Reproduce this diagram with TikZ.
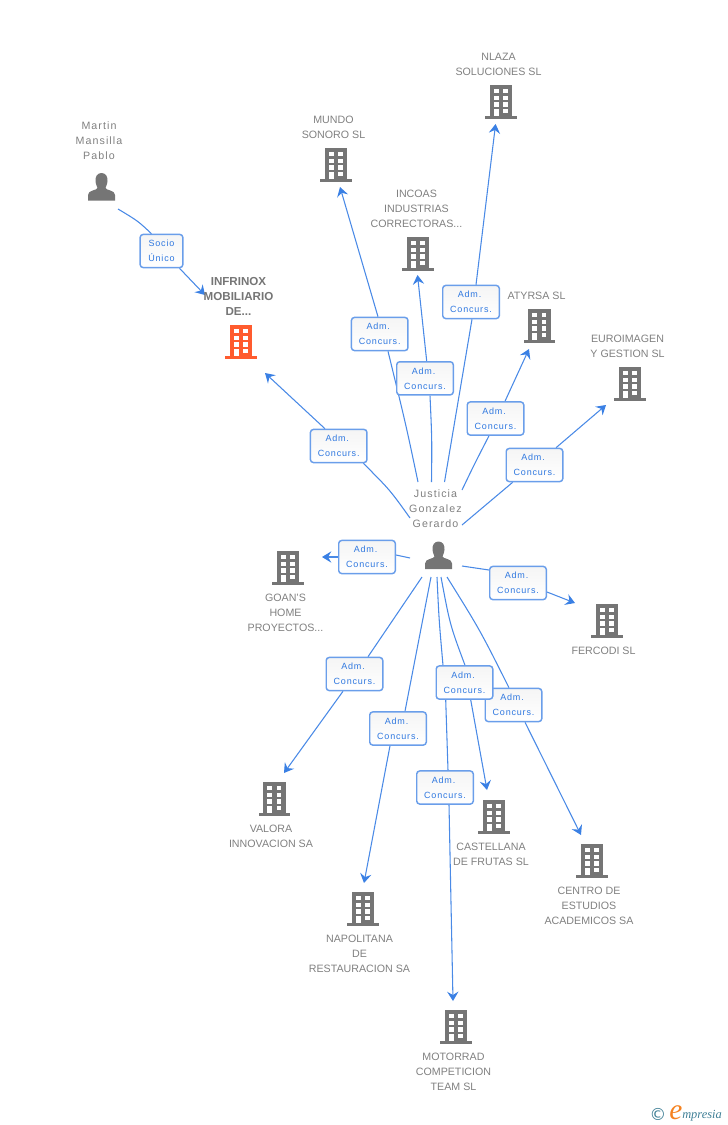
\documentclass[tikz,border=0pt]{standalone}
\usepackage{fontspec}
\setmainfont{Liberation Sans}
\newfontfamily\personfont[LetterSpace=10]{Liberation Sans}
\newfontfamily\labelfont[LetterSpace=9]{Liberation Sans}
\newfontfamily\logofont{Liberation Serif}
\newfontfamily\copyfont{DejaVu Sans}
\usetikzlibrary{arrows.meta,calc}
\definecolor{linkblue}{HTML}{4A8AE6}
\definecolor{tipblue}{HTML}{3A80E4}
\definecolor{boxblue}{HTML}{6A9EEA}
\definecolor{labelblue}{HTML}{2F78E0}
\definecolor{icongray}{HTML}{757575}
\definecolor{textgray}{HTML}{808080}
\definecolor{boldgray}{HTML}{757575}
\definecolor{hotorange}{HTML}{FF5B2E}
\definecolor{logoteal}{HTML}{3F7F96}
\definecolor{logoorange}{HTML}{F58220}
\pgfdeclarelayer{links}
\pgfsetlayers{links,main}
\newcommand{\admtext}{Adm.\kern2.2pt\\Concurs.}
\tikzset{
  x=0.75pt,y=-0.75pt,
  building/.pic={
    \fill[pic actions] (-11.3,0) rectangle (11.3,31);
    \fill[pic actions] (-15.6,31) rectangle (15.6,34);
    \foreach \yy in {4,10.7,17.3}{
      \fill[white] (-7.3,\yy) rectangle (-2.4,\yy+4.4);
      \fill[white] (2,\yy) rectangle (6.9,\yy+4.4);
    }
    \fill[white] (-7.3,24) rectangle (-2.4,31);
    \fill[white] (2,24) rectangle (6.9,28.4);
  },
  personicon/.pic={
    \fill[pic actions] (0,0) .. controls (4.5,0) and (6.3,4) .. (6,8)
      .. controls (5.7,11.5) and (4.5,13.5) .. (4,15)
      .. controls (4.5,17.5) and (13.5,17) .. (13.5,22)
      -- (13.5,27.5) -- (-13.5,27.5) -- (-13.5,22)
      .. controls (-13.5,17) and (-4.5,17.5) .. (-4,15)
      .. controls (-4.5,13.5) and (-5.7,11.5) .. (-6,8)
      .. controls (-6.3,4) and (-4.5,0) .. (0,0) -- cycle;
  },
  nametext/.style={text=textgray,align=center,inner sep=0pt,yshift=-0.7pt,font=\fontsize{8}{11.25}\selectfont},
  persontext/.style={text=textgray,align=center,inner sep=0pt,yshift=-0.7pt,font=\personfont\fontsize{8}{11.25}\selectfont},
  hottext/.style={text=boldgray,align=center,inner sep=0pt,font=\bfseries\fontsize{8.7}{11.25}\selectfont},
  linkbox/.style={draw=boxblue,line width=1.1pt,rounded corners=2.2pt,top color=gray!8,bottom color=white,
    minimum width=42.4pt,minimum height=24.8pt,inner sep=0pt,align=center,text=labelblue,
    font=\labelfont\fontsize{6.75}{11.25}\selectfont},
  smallbox/.style={linkbox,minimum width=32pt},
  conn/.style={draw=linkblue,line width=0.8pt},
  connarrow/.style={conn,-{Stealth[length=7pt,width=8.5pt,inset=2.5pt,color=tipblue]}},
}
\begin{document}
\begin{tikzpicture}
\useasboundingbox (0,0) rectangle (728,1125);

% building icons
\pic[fill=icongray] (icoNlaza) at (501,85) {building};
\pic[fill=icongray] (icoMundo) at (336,148) {building};
\pic[fill=icongray] (icoIncoas) at (418,237) {building};
\pic[fill=icongray] (icoAtyrsa) at (539.5,309) {building};
\pic[fill=icongray] (icoEuro) at (630,367) {building};
\pic[fill=hotorange] (icoInfrinox) at (241,325) {building};
\pic[fill=icongray] (icoGoan) at (288,551) {building};
\pic[fill=icongray] (icoFercodi) at (607,604) {building};
\pic[fill=icongray] (icoValora) at (274.5,782) {building};
\pic[fill=icongray] (icoCastellana) at (494,800) {building};
\pic[fill=icongray] (icoCentro) at (592,844) {building};
\pic[fill=icongray] (icoNapolitana) at (363,892) {building};
\pic[fill=icongray] (icoMotorrad) at (456,1010) {building};
\pic[fill=icongray] (icoMartin) at (101.5,173) {personicon};
\pic[fill=icongray] (icoJusticia) at (438.5,541.5) {personicon};

% name texts
\node[persontext] (tMartin) at (99,140) {Martin\\Mansilla\\Pablo};
\node[persontext] (tJusticia) at (435.5,507.5) {Justicia\\Gonzalez\\Gerardo};
\node[nametext] (tNlaza) at (498.5,63.5) {NLAZA\\SOLUCIONES SL};
\node[nametext] (tMundo) at (333.5,126.5) {MUNDO\\SONORO SL};
\node[nametext] (tIncoas) at (416.5,208) {INCOAS\\INDUSTRIAS\\CORRECTORAS...};
\node[nametext] (tAtyrsa) at (536.5,295) {ATYRSA SL};
\node[nametext] (tEuro) at (627.5,345.5) {EUROIMAGEN\\Y GESTION SL};
\node[hottext] (tInfrinox) at (238.5,296) {INFRINOX\\MOBILIARIO\\DE...};
\node[nametext] (tGoan) at (285.5,612) {GOAN'S\\HOME\\PROYECTOS...};
\node[nametext] (tFercodi) at (603.5,650) {FERCODI SL};
\node[nametext] (tValora) at (271,835.5) {VALORA\\INNOVACION SA};
\node[nametext] (tCastellana) at (491,853.5) {CASTELLANA\\DE FRUTAS SL};
\node[nametext] (tCentro) at (589,905) {CENTRO DE\\ESTUDIOS\\ACADEMICOS SA};
\node[nametext] (tNapolitana) at (359.5,953) {NAPOLITANA\\DE\\RESTAURACION SA};
\node[nametext] (tMotorrad) at (453.5,1071) {MOTORRAD\\COMPETICION\\TEAM SL};

% link labels
\node[smallbox] (lSocio) at (161.5,251) {Socio\\Único};
\node[linkbox] (lMundo) at (379.7,334) {\admtext};
\node[linkbox] (lIncoas) at (425,378.3) {\admtext};
\node[linkbox] (lNlaza) at (471,302) {\admtext};
\node[linkbox] (lAtyrsa) at (495.5,418.5) {\admtext};
\node[linkbox] (lEuro) at (534.5,465) {\admtext};
\node[linkbox] (lInfrinox) at (338.7,446) {\admtext};
\node[linkbox] (lGoan) at (367,557) {\admtext};
\node[linkbox] (lFercodi) at (518,583) {\admtext};
\node[linkbox] (lValora) at (354.5,674) {\admtext};
\node[linkbox] (lNapolitana) at (398,728.5) {\admtext};
\node[linkbox] (lMotorrad) at (445,787.5) {\admtext};
\node[linkbox] (lCentro) at (513.5,705) {\admtext};
\node[linkbox] (lCastellana) at (464.5,682.5) {\admtext};

% free ends of the connectors
\coordinate (sMartin) at (118,209);
\coordinate (aInfrinoxS) at (205,295);
\coordinate (sMundo) at (418,482);
\coordinate (aMundo) at (340,187);
\coordinate (sIncoas) at (431.5,482);
\coordinate (aIncoas) at (417.5,275);
\coordinate (sNlaza) at (444.5,482);
\coordinate (aNlaza) at (495.6,124);
\coordinate (sAtyrsa) at (462,490);
\coordinate (aAtyrsa) at (529,349);
\coordinate (sEuro) at (462,525);
\coordinate (aEuro) at (606,405);
\coordinate (sInfrinox) at (410,518);
\coordinate (aInfrinox) at (265,373);
\coordinate (sGoan) at (410,558);
\coordinate (aGoan) at (322,557);
\coordinate (sFercodi) at (462,566);
\coordinate (aFercodi) at (575,603);
\coordinate (sValora) at (422,577);
\coordinate (aValora) at (284,773);
\coordinate (sNapolitana) at (431,577);
\coordinate (aNapolitana) at (364,883);
\coordinate (sMotorrad) at (437,577);
\coordinate (aMotorrad) at (453,1001);
\coordinate (sCastellana) at (441,577);
\coordinate (aCastellana) at (487,790);
\coordinate (sCentro) at (447,577);
\coordinate (aCentro) at (581,835);

\begin{pgfonlayer}{links}
\draw[conn] (sMartin) .. controls (138,221) .. ($(lSocio.north)+(-10,0)$);
\draw[connarrow] ($(lSocio.south)+(18,0)$) -- (aInfrinoxS);
\draw[conn] (sMundo) .. controls (406,425) .. ($(lMundo.south)+(8.3,0)$);
\draw[connarrow] ($(lMundo.north)+(-1.7,0)$) -- (aMundo);
\draw[conn] (sIncoas) .. controls (432,440) .. ($(lIncoas.south)+(5,0)$);
\draw[connarrow] ($(lIncoas.north)+(1.7,0)$) -- (aIncoas);
\draw[conn] (sNlaza) -- ($(lNlaza.south)+(1,0)$);
\draw[connarrow] ($(lNlaza.north)+(5,0)$) -- (aNlaza);
\draw[conn] (sAtyrsa) .. controls (474,465) .. ($(lAtyrsa.south)+(-6.5,0)$);
\draw[connarrow] ($(lAtyrsa.north)+(9.5,0)$) -- (aAtyrsa);
\draw[conn] (sEuro) -- ($(lEuro.south)+(-21.8,0)$);
\draw[connarrow] ($(lEuro.north)+(21.5,0)$) -- (aEuro);
\draw[conn] (sInfrinox) .. controls (390,490) .. ($(lInfrinox.south)+(24.6,0)$);
\draw[connarrow] ($(lInfrinox.north)+(-13.7,0)$) -- (aInfrinox);
\draw[conn] (sGoan) -- ($(lGoan.east)+(0,-2)$);
\draw[connarrow] (lGoan) -- (aGoan);
\draw[conn] (sFercodi) -- ($(lFercodi.west)+(0,-13)$);
\draw[connarrow] ($(lFercodi.east)+(0,9)$) -- (aFercodi);
\draw[conn] (sValora) -- ($(lValora.north)+(13.5,0)$);
\draw[connarrow] ($(lValora.south)+(-11.5,0)$) -- (aValora);
\draw[conn] (sNapolitana) -- ($(lNapolitana.north)+(7,0)$);
\draw[connarrow] ($(lNapolitana.south)+(-8,0)$) -- (aNapolitana);
\draw[conn] (sMotorrad) .. controls (439,620) .. ($(lCastellana.north)+(-21.5,0)$)
  -- ($(lCastellana.south)+(-18.8,0)$) -- ($(lMotorrad.north)+(3,0)$);
\draw[connarrow] ($(lMotorrad.south)+(4,0)$) -- (aMotorrad);
\draw[conn] (sCastellana) .. controls (450,625) .. ($(lCastellana.north)+(0.5,0)$);
\draw[connarrow] ($(lCastellana.south)+(6.2,0)$) -- (aCastellana);
\draw[conn] (sCentro) .. controls (480,630) .. ($(lCentro.north)+(-4.5,0)$);
\draw[connarrow] ($(lCentro.south)+(11.5,0)$) -- (aCentro);
\end{pgfonlayer}

% logo
\node[inner sep=0pt,text=logoteal,font=\copyfont\fontsize{12.5}{12.5}\selectfont] (logoC) at (658,1114) {©};
\node[inner sep=0pt,anchor=base west,text=logoorange,font=\logofont\itshape\fontsize{22}{22}\selectfont] (logoE) at (669,1119) {e};
\node[inner sep=0pt,anchor=base west,text=logoteal,font=\logofont\itshape\fontsize{9.3}{10}\selectfont] (logoT) at (682,1118) {mpresia};
\end{tikzpicture}
\end{document}
